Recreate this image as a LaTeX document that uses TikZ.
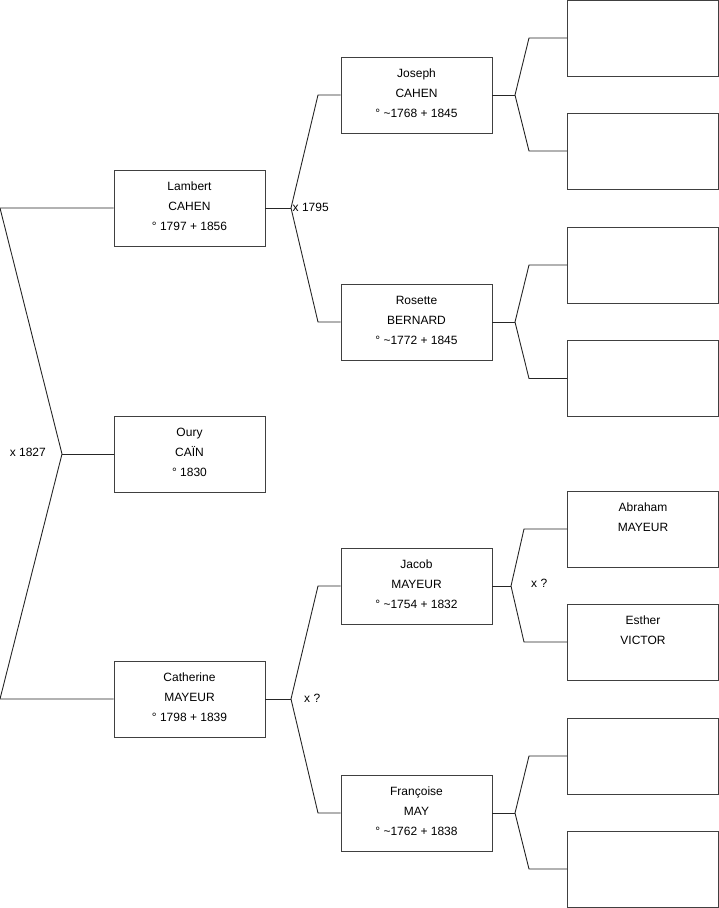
\documentclass[tikz,border=0pt]{standalone}
\usepackage{fontspec}
\setmainfont{Liberation Sans}
\usetikzlibrary{positioning}

\tikzset{
  person/.style={draw=black!75, line width=0.9pt, minimum width=151pt, minimum height=76pt,
    align=center, inner sep=0pt, text depth=4pt, font=\fontsize{12}{20}\selectfont},
  link/.style={draw=black!85, line width=0.9pt},
  union/.style={font=\fontsize{12}{14}\selectfont, inner sep=0pt}
}

\begin{document}
\begin{tikzpicture}[x=1pt, y=-1pt]
    \useasboundingbox (0,0) rectangle (719,908);

    % Generation 1
    \node[person] (lambert) at (189.5,208) {Lambert\\CAHEN\\° 1797 + 1856};
    \node[person] (oury) at (189.5,454) {Oury\\CAÏN\\° 1830};
    \node[person] (catherine) at (189.5,699) {Catherine\\MAYEUR\\° 1798 + 1839};

    % Generation 2
    \node[person] (joseph) at (416.5,95) {Joseph\\CAHEN\\° \textasciitilde1768 + 1845};
    \node[person] (rosette) at (416.5,322) {Rosette\\BERNARD\\° \textasciitilde1772 + 1845};
    \node[person] (jacob) at (416.5,586) {Jacob\\MAYEUR\\° \textasciitilde1754 + 1832};
    \node[person] (francoise) at (416.5,813) {Françoise\\MAY\\° \textasciitilde1762 + 1838};

    % Generation 3
    \node[person] (g1) at (643,38) {};
    \node[person] (g2) at (643,151) {};
    \node[person] (g3) at (643,265) {};
    \node[person] (g4) at (643,378.5) {};
    \node[person] (abraham) at (643,529) {Abraham\\MAYEUR\\~};
    \node[person] (esther) at (643,642) {Esther\\VICTOR\\~};
    \node[person] (g7) at (643,756) {};
    \node[person] (g8) at (643,869) {};

    % Oury's parents
    \coordinate (u0) at (62,454);
    \coordinate (u0a) at (0,208);
    \coordinate (u0b) at (0,699);
    \draw[link] (lambert.west) -- (u0a) -- (u0) -- (u0b) -- (catherine.west);
    \draw[link] (u0) -- (oury.west);
    \node[union, anchor=east] (m0) at (46,452) {x 1827};

    % Lambert's parents
    \coordinate (u1) at (291,208);
    \coordinate (u1a) at (318,95);
    \coordinate (u1b) at (318,322);
    \draw[link] (joseph.west) -- (u1a) -- (u1) -- (u1b) -- (rosette.west);
    \draw[link] (lambert.east) -- (u1);
    \node[union, anchor=west] (m1) at (292.5,207) {x 1795};

    % Catherine's parents
    \coordinate (u2) at (291,699);
    \coordinate (u2a) at (318,586);
    \coordinate (u2b) at (318,813);
    \draw[link] (jacob.west) -- (u2a) -- (u2) -- (u2b) -- (francoise.west);
    \draw[link] (catherine.east) -- (u2);
    \node[union, anchor=west] (m2) at (304,698) {x ?};

    % Joseph's parents
    \coordinate (u3) at (515,95);
    \coordinate (u3a) at (529,38);
    \coordinate (u3b) at (529,151);
    \draw[link] (g1.west) -- (u3a) -- (u3) -- (u3b) -- (g2.west);
    \draw[link] (joseph.east) -- (u3);

    % Rosette's parents
    \coordinate (u4) at (515,322);
    \coordinate (u4a) at (529,265);
    \coordinate (u4b) at (529,378.5);
    \draw[link] (g3.west) -- (u4a) -- (u4) -- (u4b) -- (g4.west);
    \draw[link] (rosette.east) -- (u4);

    % Jacob's parents
    \coordinate (u5) at (511,586);
    \coordinate (u5a) at (524,529);
    \coordinate (u5b) at (524,642);
    \draw[link] (abraham.west) -- (u5a) -- (u5) -- (u5b) -- (esther.west);
    \draw[link] (jacob.east) -- (u5);
    \node[union, anchor=west] (m5) at (531,583) {x ?};

    % Francoise's parents
    \coordinate (u6) at (515,813);
    \coordinate (u6a) at (529,756);
    \coordinate (u6b) at (529,869);
    \draw[link] (g7.west) -- (u6a) -- (u6) -- (u6b) -- (g8.west);
    \draw[link] (francoise.east) -- (u6);
\end{tikzpicture}
\end{document}
